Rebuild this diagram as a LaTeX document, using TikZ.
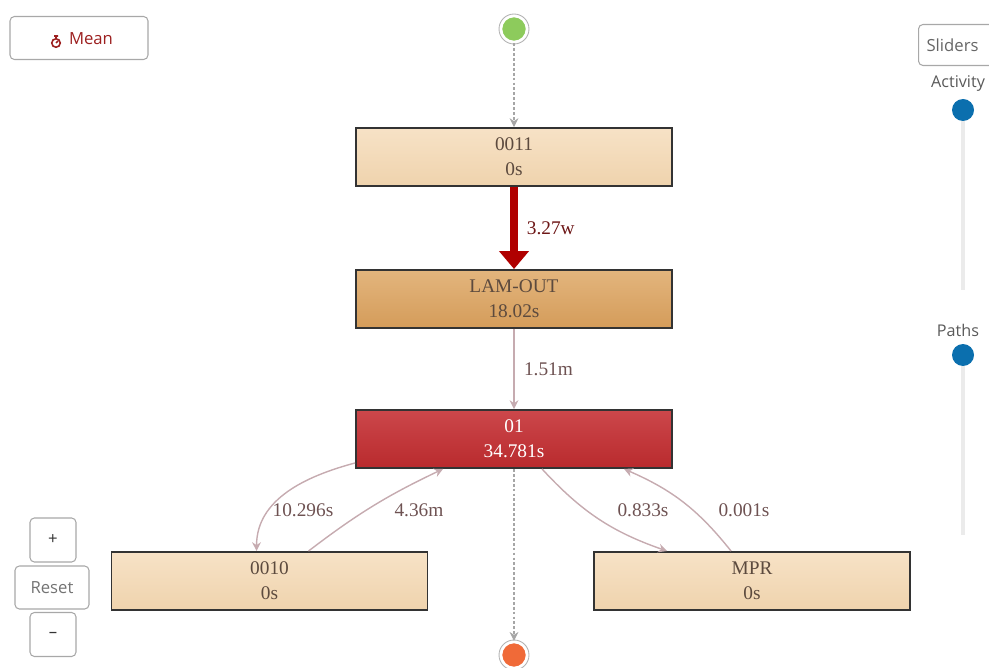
\documentclass[tikz,border=0pt]{standalone}
\usepackage{fontspec}
\setmainfont{Liberation Serif}
\newfontfamily\uifont{Open Sans}
\usetikzlibrary{arrows.meta,positioning}

\definecolor{tanA}{HTML}{F7E2C6}
\definecolor{tanB}{HTML}{EFD3AD}
\definecolor{ochreA}{HTML}{E3B57D}
\definecolor{ochreB}{HTML}{D49C5A}
\definecolor{redA}{HTML}{CC474B}
\definecolor{redB}{HTML}{B92A2D}
\definecolor{boxtext}{HTML}{5C4A3E}
\definecolor{edgecol}{HTML}{C6ABB0}
\definecolor{labcol}{HTML}{6E5252}
\definecolor{heavy}{HTML}{B00000}
\definecolor{uigray}{HTML}{A8A8A8}
\definecolor{slider}{HTML}{0B6FAE}
\definecolor{meanred}{HTML}{9C1F1F}
\definecolor{startcol}{HTML}{8DCB5C}
\definecolor{endcol}{HTML}{F06A38}

\begin{document}
\begin{tikzpicture}[x=0.02cm,y=-0.02cm,
    act/.style={draw=black!80,line width=1.1pt,minimum width=6.32cm,minimum height=1.16cm,
      align=center,font=\fontsize{11}{14.2}\selectfont,text=boxtext},
    tan/.style={act,top color=tanA,bottom color=tanB},
    ochre/.style={act,top color=ochreA,bottom color=ochreB},
    hot/.style={act,top color=redA,bottom color=redB,text=white},
    flow/.style={draw=edgecol,line width=0.8pt,-{Stealth[length=5pt,width=5pt]}},
    dots/.style={draw=gray!70,line width=0.6pt,dash pattern=on 1.6pt off 1.2pt,-{Stealth[length=5pt,width=5pt]}},
    lab/.style={font=\fontsize{11}{13}\selectfont,text=labcol},
    ui/.style={draw=uigray,line width=0.6pt,rounded corners=2.5pt,font=\uifont\fontsize{9.5}{11}\selectfont,text=black!55},
    knob/.style={circle,fill=slider,minimum size=0.44cm,inner sep=0pt},
    track/.style={draw=black!8,line width=2.5pt},
    endpt/.style={circle,minimum size=0.52cm,inner sep=0pt,draw=white,line width=1.4pt}]

\useasboundingbox (0,0) rectangle (989,668);

% start / end
\node[endpt,fill=startcol] (s) at (514,29) {};
\draw[gray!60,line width=0.5pt] (s) circle (0.3cm);
\node[endpt,fill=endcol] (t) at (514,655) {};
\draw[gray!60,line width=0.5pt] (t) circle (0.3cm);

% activities
\node[tan] (a) at (514,157) {0011\\0s};
\node[ochre] (b) at (514,299) {LAM-OUT\\18.02s};
\node[hot] (c) at (514,439) {01\\34.781s};
\node[tan] (d) at (269.5,581) {0010\\0s};
\node[tan] (e) at (752,581) {MPR\\0s};

% paths
\draw[dots] (s) -- (a);
\draw[heavy,line width=4pt,-{Triangle[length=0.36cm,width=0.58cm]}] (a) -- (b)
  node[midway,right=2pt,lab,text=meanred!70!black] {3.27w};
\draw[flow] (b) -- (c) node[midway,right=2pt,lab] {1.51m};
\draw[dots] (c) -- (t);
\draw[flow] ([yshift=0.12cm]c.south west) to[out=195,in=90] ([xshift=2.92cm]d.north west);
\draw[flow] ([xshift=3.96cm]d.north west) to[bend left=6] ([xshift=1.76cm]c.south west);
\draw[flow] ([xshift=3.74cm]c.south west) to[bend right=14] ([xshift=1.48cm]e.north west);
\draw[flow] ([xshift=2.76cm]e.north west) to[bend right=14] ([xshift=5.38cm]c.south west);

% path labels
\node[lab] (l1) at (303,510) {10.296s};
\node[lab] (l2) at (419,510) {4.36m};
\node[lab] (l3) at (643,510) {0.833s};
\node[lab] (l4) at (744,510) {0.001s};

% controls
\node[ui,minimum width=2.76cm,minimum height=0.86cm] (mean) at (79,38) {};
\node[font=\uifont\fontsize{9.5}{11}\selectfont,text=meanred] (mtxt) at (91,39) {Mean};
\draw[meanred,line width=0.9pt] (56,43) circle (0.085cm);
\draw[meanred,line width=0.9pt] (56,36.5) -- (56,38.5) (54,36) -- (58,36) (56,43) -- (58,41);

\node[ui,minimum width=1.6cm,minimum height=0.82cm,anchor=west,text=black!60] (sl) at (918,45) {\hspace*{-0.12cm}Sliders\hspace*{0.12cm}};

\node[font=\uifont\fontsize{9.2}{11}\selectfont,text=black!65] (act) at (958,84) {Activity};
\draw[track] (963,118) -- (963,290);
\node[knob] (k1) at (963,110) {};
\node[font=\uifont\fontsize{9.2}{11}\selectfont,text=black!65] (pth) at (958,330) {Paths};
\draw[track] (963,362) -- (963,535);
\node[knob] (k2) at (963,355) {};

\node[ui,minimum width=0.92cm,minimum height=0.88cm,text=black!80] (zin) at (53,540) {+};
\node[ui,minimum width=1.48cm,minimum height=0.86cm] (rst) at (52,587.5) {Reset};
\node[ui,minimum width=0.92cm,minimum height=0.88cm,text=black!80] (zout) at (53,634.5) {\textendash};

\end{tikzpicture}
\end{document}
